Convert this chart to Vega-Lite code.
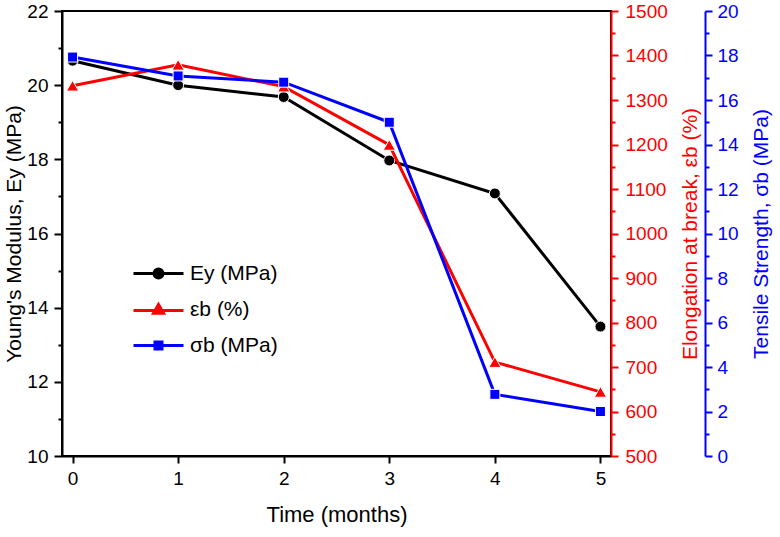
{
  "$schema": "https://vega.github.io/schema/vega-lite/v6.json",
  "width": 549,
  "height": 445,
  "autosize": {"type": "none"},
  "padding": {"left": 62, "top": 11, "right": 169, "bottom": 81},
  "background": "white",
  "config": {
    "font": "Liberation Sans",
    "view": {"stroke": "black", "strokeWidth": 2},
    "axis": {
      "grid": false,
      "labelFont": "Liberation Sans",
      "titleFont": "Liberation Sans",
      "labelFontSize": 19,
      "titleFontSize": 21,
      "titleFontWeight": "normal",
      "domainWidth": 2,
      "tickWidth": 2,
      "labelFlush": false,
      "labelOverlap": false
    }
  },
  "data": {
    "values": [
      {"t": 0, "series": "Ey (MPa)", "value": 20.66},
      {"t": 1, "series": "Ey (MPa)", "value": 20.0},
      {"t": 2, "series": "Ey (MPa)", "value": 19.68},
      {"t": 3, "series": "Ey (MPa)", "value": 17.97},
      {"t": 4, "series": "Ey (MPa)", "value": 17.08},
      {"t": 5, "series": "Ey (MPa)", "value": 13.49},
      {"t": 0, "series": "εb (%)", "value": 1332},
      {"t": 1, "series": "εb (%)", "value": 1379},
      {"t": 2, "series": "εb (%)", "value": 1330},
      {"t": 3, "series": "εb (%)", "value": 1199},
      {"t": 4, "series": "εb (%)", "value": 711},
      {"t": 5, "series": "εb (%)", "value": 644},
      {"t": 0, "series": "σb (MPa)", "value": 17.93},
      {"t": 1, "series": "σb (MPa)", "value": 17.08},
      {"t": 2, "series": "σb (MPa)", "value": 16.8},
      {"t": 3, "series": "σb (MPa)", "value": 15.0},
      {"t": 4, "series": "σb (MPa)", "value": 2.77},
      {"t": 5, "series": "σb (MPa)", "value": 2.0}
    ]
  },
  "encoding": {
    "x": {
      "field": "t",
      "type": "quantitative",
      "scale": {"domain": [-0.1, 5.1], "nice": false, "zero": false},
      "axis": {
        "title": "Time (months)",
        "titleFontSize": 22,
        "values": [0, 0.5, 1, 1.5, 2, 2.5, 3, 3.5, 4, 4.5, 5],
        "format": "d",
        "labelExpr": "datum.value % 1 === 0 ? datum.label : ''",
        "tickSize": {"condition": {"test": "datum.value % 1 !== 0", "value": 4}, "value": 7},
        "labelPadding": 6,
        "titlePadding": 16,
        "domainColor": "black",
        "tickColor": "black",
        "labelColor": "black",
        "titleColor": "black"
      }
    }
  },
  "layer": [
    {
      "transform": [{"filter": "datum.series === 'Ey (MPa)'"}],
      "encoding": {
        "y": {
          "field": "value",
          "type": "quantitative",
          "scale": {"domain": [10, 22], "nice": false, "zero": false},
          "axis": {
            "orient": "left",
            "title": "Young's Modulus, Ey (MPa)",
            "titleFontSize": 21,
            "values": [10, 11, 12, 13, 14, 15, 16, 17, 18, 19, 20, 21, 22],
            "format": "d",
            "labelExpr": "datum.value % 2 === 0 ? datum.label : ''",
            "tickSize": {"condition": {"test": "datum.value % 2 !== 0", "value": 4}, "value": 8},
            "labelPadding": 6,
            "titlePadding": 2,
            "domainColor": "black",
            "tickColor": "black",
            "labelColor": "black",
            "titleColor": "black"
          }
        }
      },
      "layer": [
        {"mark": {"type": "line", "color": "black", "strokeWidth": 3}},
        {"mark": {"type": "point", "shape": "circle", "filled": true, "opacity": 1, "size": 120, "color": "black", "stroke": "white", "strokeWidth": 1}}
      ]
    },
    {
      "transform": [{"filter": "datum.series === 'εb (%)'"}],
      "encoding": {
        "y": {
          "field": "value",
          "type": "quantitative",
          "scale": {"domain": [500, 1500], "nice": false, "zero": false},
          "axis": {
            "orient": "right",
            "title": "Elongation at break, εb (%)",
            "titleAngle": 270,
            "titleBaseline": "top",
            "values": [500, 550, 600, 650, 700, 750, 800, 850, 900, 950, 1000, 1050, 1100, 1150, 1200, 1250, 1300, 1350, 1400, 1450, 1500],
            "format": "d",
            "labelExpr": "datum.value % 100 === 0 ? datum.label : ''",
            "tickSize": {"condition": {"test": "datum.value % 100 !== 0", "value": 4}, "value": 7},
            "labelPadding": 7,
            "titlePadding": 12,
            "domainColor": "#FF0000",
            "tickColor": "#FF0000",
            "labelColor": "#FF0000",
            "titleColor": "#FF0000"
          }
        }
      },
      "layer": [
        {"mark": {"type": "line", "color": "#FF0000", "strokeWidth": 3}},
        {"mark": {"type": "point", "shape": "triangle-up", "filled": true, "opacity": 1, "size": 150, "color": "#FF0000", "stroke": "white", "strokeWidth": 1}}
      ]
    },
    {
      "transform": [{"filter": "datum.series === 'σb (MPa)'"}],
      "encoding": {
        "y": {
          "field": "value",
          "type": "quantitative",
          "scale": {"domain": [0, 20], "nice": false, "zero": false},
          "axis": {
            "orient": "right",
            "offset": 94,
            "title": "Tensile Strength, σb (MPa)",
            "titleAngle": 270,
            "titleBaseline": "top",
            "values": [0, 1, 2, 3, 4, 5, 6, 7, 8, 9, 10, 11, 12, 13, 14, 15, 16, 17, 18, 19, 20],
            "format": "d",
            "labelExpr": "datum.value % 2 === 0 ? datum.label : ''",
            "tickSize": {"condition": {"test": "datum.value % 2 !== 0", "value": 4}, "value": 7},
            "labelPadding": 5,
            "titlePadding": 12,
            "domainColor": "#0000FF",
            "tickColor": "#0000FF",
            "labelColor": "#0000FF",
            "titleColor": "#0000FF"
          }
        }
      },
      "layer": [
        {"mark": {"type": "line", "color": "#0000FF", "strokeWidth": 3}},
        {"mark": {"type": "point", "shape": "square", "filled": true, "opacity": 1, "size": 100, "color": "#0000FF", "stroke": "white", "strokeWidth": 1}}
      ]
    },
    {
      "mark": {"type": "point", "filled": true, "opacity": 0, "strokeWidth": 3},
      "encoding": {
        "fill": {
          "field": "series",
          "type": "nominal",
          "scale": {"domain": ["Ey (MPa)", "εb (%)", "σb (MPa)"], "range": ["#000000", "#FF0000", "#0000FF"]},
          "legend": {
            "title": null,
            "orient": "none",
            "legendX": 85,
            "legendY": 251,
            "padding": 0,
            "symbolSize": 400,
            "symbolOpacity": 1,
            "symbolStrokeWidth": 3,
            "labelFontSize": 21,
            "labelFont": "Liberation Sans",
            "labelColor": "black",
            "labelOffset": 20,
            "rowPadding": 14,
            "labelLimit": 300
          }
        },
        "stroke": {
          "field": "series",
          "type": "nominal",
          "scale": {"domain": ["Ey (MPa)", "εb (%)", "σb (MPa)"], "range": ["#000000", "#FF0000", "#0000FF"]},
          "legend": {
            "title": null,
            "orient": "none",
            "legendX": 85,
            "legendY": 251,
            "padding": 0,
            "symbolSize": 400,
            "symbolOpacity": 1,
            "symbolStrokeWidth": 3,
            "labelFontSize": 21,
            "labelFont": "Liberation Sans",
            "labelColor": "black",
            "labelOffset": 20,
            "rowPadding": 14,
            "labelLimit": 300
          }
        },
        "shape": {
          "field": "series",
          "type": "nominal",
          "scale": {
            "domain": ["Ey (MPa)", "εb (%)", "σb (MPa)"],
            "range": [
              "M-2.5,0H-0.5M0.5,0H2.5M0.45,0A0.45,0.45,0,1,1,-0.45,0A0.45,0.45,0,1,1,0.45,0Z",
              "M-2.5,0.1H-0.4M0.4,0.1H2.5M0,-0.5L0.5,0.38L-0.5,0.38Z",
              "M-2.5,0H-0.4M0.4,0H2.5M-0.35,-0.35H0.35V0.35H-0.35Z"
            ]
          },
          "legend": {
            "title": null,
            "orient": "none",
            "legendX": 85,
            "legendY": 251,
            "padding": 0,
            "symbolSize": 400,
            "symbolOpacity": 1,
            "symbolStrokeWidth": 3,
            "labelFontSize": 21,
            "labelFont": "Liberation Sans",
            "labelColor": "black",
            "labelOffset": 20,
            "rowPadding": 14,
            "labelLimit": 300
          }
        }
      }
    }
  ],
  "resolve": {"scale": {"y": "independent"}}
}
